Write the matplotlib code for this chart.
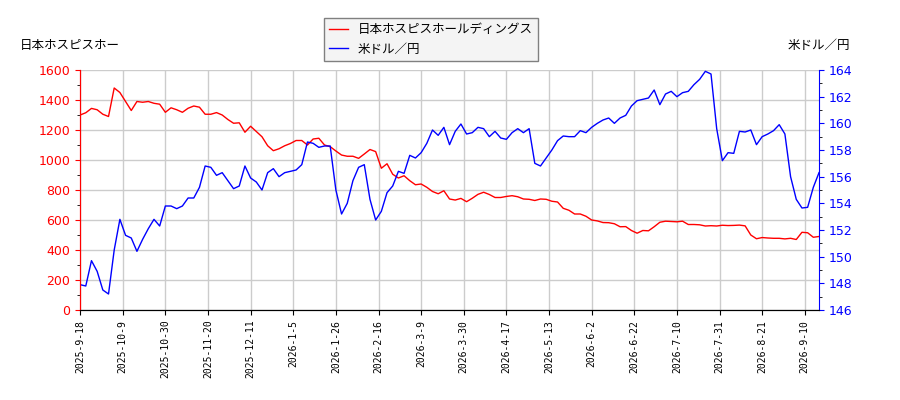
import numpy as np
import matplotlib
matplotlib.use('Agg')
import matplotlib.pyplot as plt
from matplotlib.ticker import MultipleLocator

plt.rcParams['font.family'] = ['DejaVu Sans', 'Noto Sans CJK JP']

# 系列名
stock_name = '日本ホスピスホールディングス'
fx_name = '米ドル／円'

# x軸ラベル (15データごと)
tick_labels = ['2025-9-18', '2025-10-9', '2025-10-30', '2025-11-20', '2025-12-11',
               '2026-1-5', '2026-1-26', '2026-2-16', '2026-3-9', '2026-3-30',
               '2026-4-17', '2026-5-13', '2026-6-2', '2026-6-22', '2026-7-10',
               '2026-7-31', '2026-8-21', '2026-9-10']
tick_step = 15
sample_step = 2  # 値は2データおきに読み取り

# 株価 (円)
stock = [1300, 1315, 1344, 1335, 1305, 1290, 1480, 1450, 1390, 1330,
         1390, 1385, 1390, 1378, 1372, 1318, 1348, 1335, 1318, 1345,
         1360, 1352, 1305, 1305, 1316, 1300, 1270, 1245, 1248, 1185,
         1225, 1190, 1155, 1095, 1062, 1075, 1095, 1110, 1130, 1130,
         1100, 1140, 1145, 1100, 1089, 1060, 1033, 1025, 1025, 1011,
         1040, 1070, 1056, 945, 975, 905, 880, 895, 862, 835,
         840, 818, 790, 775, 795, 740, 733, 744, 722, 745,
         771, 785, 770, 750, 750, 757, 762, 755, 740, 738,
         730, 740, 738, 725, 720, 678, 665, 640, 640, 625,
         600, 594, 583, 582, 575, 555, 556, 530, 512, 530,
         528, 555, 585, 592, 590, 588, 592, 570, 570, 568,
         560, 562, 560, 565, 563, 564, 566, 561, 500, 475,
         483, 480, 478, 478, 474, 478, 470, 518, 515, 485,
         490]

# 米ドル／円
usdjpy = [147.9, 147.8, 149.7, 148.9, 147.5, 147.2, 150.5, 152.8, 151.6, 151.4,
          150.4, 151.3, 152.1, 152.8, 152.3, 153.8, 153.8, 153.6, 153.8, 154.4,
          154.4, 155.2, 156.8, 156.7, 156.1, 156.3, 155.7, 155.1, 155.3, 156.8,
          155.9, 155.6, 155.0, 156.3, 156.6, 156.0, 156.3, 156.4, 156.5, 156.9,
          158.6, 158.5, 158.2, 158.3, 158.3, 155.0, 153.2, 154.0, 155.7, 156.7,
          156.9, 154.3, 152.75, 153.4, 154.8, 155.3, 156.4, 156.25, 157.6, 157.4,
          157.8, 158.5, 159.5, 159.1, 159.7, 158.4, 159.4, 159.95, 159.2, 159.3,
          159.7, 159.6, 159.0, 159.4, 158.9, 158.8, 159.3, 159.6, 159.3, 159.6,
          157.0, 156.8, 157.4, 158.0, 158.7, 159.05, 159.0, 159.0, 159.45, 159.3,
          159.7, 160.0, 160.25, 160.4, 160.0, 160.4, 160.6, 161.3, 161.7, 161.8,
          161.9, 162.5, 161.4, 162.2, 162.4, 162.0, 162.3, 162.4, 162.9, 163.3,
          163.9, 163.7, 159.6, 157.2, 157.8, 157.75, 159.4, 159.35, 159.5, 158.4,
          159.0, 159.2, 159.45, 159.9, 159.2, 156.0, 154.3, 153.65, 153.7, 155.2,
          156.3]

x = np.arange(len(stock)) * sample_step

fig = plt.figure(figsize=(9, 4), dpi=100)
ax = fig.add_axes([0.089, 0.225, 0.821, 0.6])
ax2 = ax.twinx()

l1, = ax.plot(x, stock, color='red', lw=1)
l2, = ax2.plot(x, usdjpy, color='blue', lw=1)

ax.set_xlim(x[0], x[-1])
ax.set_ylim(0, 1600)
ax2.set_ylim(146, 164)

ax.yaxis.set_major_locator(MultipleLocator(200))
ax.yaxis.set_minor_locator(MultipleLocator(100))
ax2.yaxis.set_major_locator(MultipleLocator(2))
ax2.yaxis.set_minor_locator(MultipleLocator(1))

ax.set_xticks(np.arange(len(tick_labels)) * tick_step)
ax.set_xticklabels(tick_labels, rotation=90, fontsize=7, family='DejaVu Sans Mono')

ax.grid(True, color='#cccccc', lw=1)
ax.set_axisbelow(True)

ax.tick_params(axis='y', colors='red', labelsize=9)
ax2.tick_params(axis='y', colors='blue', labelsize=9)
ax.spines['left'].set_color('red')
ax2.spines['left'].set_color('red')
ax2.spines['right'].set_color('blue')
for a in (ax, ax2):
    a.spines['top'].set_visible(False)
ax.spines['right'].set_visible(False)

fig.text(0.022, 0.887, '日本ホスピスホー', fontsize=9, ha='left', va='center')
fig.text(0.944, 0.887, fx_name, fontsize=9, ha='right', va='center')

leg = fig.legend([l1, l2], [stock_name, fx_name], loc='upper center',
                 bbox_to_anchor=(0.479, 0.97), fontsize=9, frameon=True,
                 fancybox=False, edgecolor='#808080', facecolor='#f4f4f4',
                 framealpha=1, handlelength=1.5)

fig.savefig('out.png', dpi=100)
